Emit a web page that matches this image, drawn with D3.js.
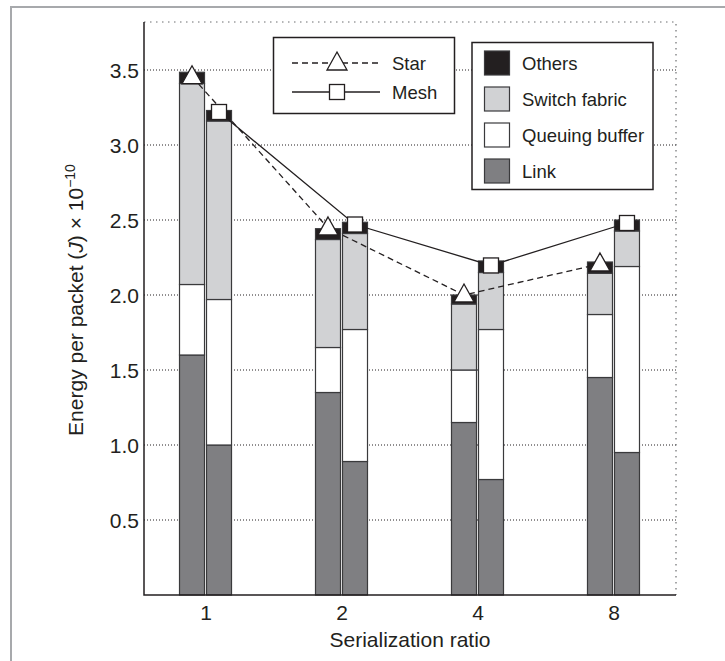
<!DOCTYPE html>
<html>
<head>
<meta charset="utf-8">
<script src="https://cdn.jsdelivr.net/npm/d3@7"></script>
<style>
body { margin: 0; background: #fff; }
text { font-family: "Liberation Sans", Arial, sans-serif; fill: #231f20; }
</style>
</head>
<body>
<script>
var ratios = ["1", "2", "4", "8"];
var yTicks = [0.5, 1.0, 1.5, 2.0, 2.5, 3.0, 3.5];

// stacked components, bottom to top
var starLink   = [1.60, 1.35, 1.15, 1.45];
var starQueue  = [0.47, 0.30, 0.35, 0.42];
var starSwitch = [1.34, 0.72, 0.44, 0.275];
var starOthers = [0.075, 0.072, 0.06, 0.075];

var meshLink   = [1.00, 0.89, 0.77, 0.95];
var meshQueue  = [0.97, 0.88, 1.00, 1.24];
var meshSwitch = [1.19, 0.64, 0.38, 0.237];
var meshOthers = [0.07, 0.075, 0.077, 0.073];

// line markers
var starMarker = [3.455, 2.447, 2.00, 2.207];
var meshMarker = [3.22, 2.47, 2.197, 2.48];

var keys = ["link", "queue", "switch", "others"];
var keyLabels = ["Others", "Switch fabric", "Queuing buffer", "Link"];
var colors = {link: "#7f7f82", queue: "#ffffff", switch: "#d1d2d4", others: "#231f20"};

var rows = [];
ratios.forEach(function(r, i) {
	rows.push({ratio: r, topo: "Star", link: starLink[i], queue: starQueue[i], switch: starSwitch[i], others: starOthers[i]});
	rows.push({ratio: r, topo: "Mesh", link: meshLink[i], queue: meshQueue[i], switch: meshSwitch[i], others: meshOthers[i]});
});

var W = 725, H = 661;
var plotL = 144, plotR = 676, plotT = 22, plotB = 595;
var barW = 25;

var svg = d3.select("body").append("svg")
	.attr("width", W)
	.attr("height", H);

// outer frame (left + top only)
svg.append("path")
	.attr("d", "M11," + H + "V7H" + W)
	.attr("fill", "none")
	.attr("stroke", "#a7a9ac")
	.attr("stroke-width", 2);

var x = d3.scalePoint().domain(ratios).range([plotL, plotR]).padding(0.456);
var y = d3.scaleLinear().domain([0, 3.82]).range([plotB, plotT]);

var barX = function(d) {
	return d.topo == "Star" ? x(d.ratio) - barW - 1.5 : x(d.ratio) + 0.5;
}

// grid
svg.append("g").selectAll("line").data(yTicks).enter()
	.append("line")
	.attr("x1", plotL).attr("x2", plotR)
	.attr("y1", d => y(d)).attr("y2", d => y(d))
	.attr("stroke", "#231f20")
	.attr("stroke-width", 1)
	.attr("stroke-dasharray", "1,2");

// top and right dotted border
svg.append("path")
	.attr("d", "M" + plotL + "," + plotT + "H" + plotR + "V" + plotB)
	.attr("fill", "none")
	.attr("stroke", "#6d6e71")
	.attr("stroke-width", 1.2)
	.attr("stroke-dasharray", "1.5,4.5");

// bars
var series = d3.stack().keys(keys)(rows);
svg.append("g").selectAll("g").data(series).enter()
	.append("g")
	.attr("fill", d => colors[d.key])
	.selectAll("rect").data(d => d).enter()
	.append("rect")
	.attr("x", d => barX(d.data))
	.attr("width", barW)
	.attr("y", d => y(d[1]))
	.attr("height", d => y(d[0]) - y(d[1]))
	.attr("stroke", "#3a3a3c")
	.attr("stroke-width", 1.2);

// axes lines
svg.append("path")
	.attr("d", "M" + plotL + "," + plotT + "V" + plotB + "H" + plotR)
	.attr("fill", "none")
	.attr("stroke", "#231f20")
	.attr("stroke-width", 1.5);

// tick labels
svg.append("g").selectAll("text").data(yTicks).enter()
	.append("text")
	.attr("x", plotL - 5)
	.attr("y", d => y(d) + 7.5)
	.attr("text-anchor", "end")
	.attr("font-size", 21)
	.text(d => d.toFixed(1));

svg.append("g").selectAll("text").data(ratios).enter()
	.append("text")
	.attr("x", d => x(d))
	.attr("y", 620)
	.attr("text-anchor", "middle")
	.attr("font-size", 21)
	.text(d => d);

svg.append("text")
	.attr("x", (plotL + plotR) / 2)
	.attr("y", 647)
	.attr("text-anchor", "middle")
	.attr("font-size", 21)
	.text("Serialization ratio");

var yl = svg.append("text")
	.attr("transform", "translate(83,300) rotate(-90)")
	.attr("text-anchor", "middle")
	.attr("font-size", 21);
yl.append("tspan").text("Energy per packet (");
yl.append("tspan").attr("font-style", "italic").text("J");
yl.append("tspan").text(") \u00d7 10");
yl.append("tspan").attr("font-size", 14).attr("dy", -8).text("\u221210");

// lines
var lineGen = d3.line().x(d => d[0]).y(d => y(d[1]));
var starPts = ratios.map((r, i) => [x(r) - barW / 2 - 1.5, starMarker[i]]);
var meshPts = ratios.map((r, i) => [x(r) + barW / 2 + 0.5, meshMarker[i]]);

svg.append("path")
	.attr("d", lineGen(starPts))
	.attr("fill", "none")
	.attr("stroke", "#231f20")
	.attr("stroke-width", 1.3)
	.attr("stroke-dasharray", "6,4");

svg.append("path")
	.attr("d", lineGen(meshPts))
	.attr("fill", "none")
	.attr("stroke", "#231f20")
	.attr("stroke-width", 1.3);

function triangle(g, cx, cy) {
	g.append("path")
		.attr("d", "M" + cx + "," + (cy - 11) + "L" + (cx + 10) + "," + (cy + 7) + "L" + (cx - 10) + "," + (cy + 7) + "Z")
		.attr("fill", "#fff")
		.attr("stroke", "#231f20")
		.attr("stroke-width", 1.3);
}
function square(g, cx, cy) {
	g.append("rect")
		.attr("x", cx - 7.5).attr("y", cy - 7.5)
		.attr("width", 15).attr("height", 15)
		.attr("fill", "#fff")
		.attr("stroke", "#231f20")
		.attr("stroke-width", 1.3);
}
var mk = svg.append("g");
starPts.forEach(p => triangle(mk, p[0], y(p[1])));
meshPts.forEach(p => square(mk, p[0], y(p[1])));

// legend: lines
var lg1 = svg.append("g");
lg1.append("rect")
	.attr("x", 273.5).attr("y", 37.5).attr("width", 181).attr("height", 76)
	.attr("fill", "#fff").attr("stroke", "#231f20").attr("stroke-width", 1.5);
lg1.append("line").attr("x1", 292).attr("x2", 380).attr("y1", 63).attr("y2", 63)
	.attr("stroke", "#231f20").attr("stroke-width", 1.3).attr("stroke-dasharray", "6,4");
triangle(lg1, 337, 63);
lg1.append("line").attr("x1", 292).attr("x2", 380).attr("y1", 92).attr("y2", 92)
	.attr("stroke", "#231f20").attr("stroke-width", 1.3);
square(lg1, 337, 92);
lg1.append("text").attr("x", 392).attr("y", 69.5).attr("font-size", 18.5).text("Star");
lg1.append("text").attr("x", 392).attr("y", 98.5).attr("font-size", 18.5).text("Mesh");

// legend: components
var lg2 = svg.append("g");
lg2.append("rect")
	.attr("x", 472).attr("y", 42.5).attr("width", 181).attr("height", 147)
	.attr("fill", "#fff").attr("stroke", "#231f20").attr("stroke-width", 1.5);
var legKeys = ["others", "switch", "queue", "link"];
legKeys.forEach(function(k, i) {
	lg2.append("rect")
		.attr("x", 484.5).attr("y", 51 + i * 36).attr("width", 25).attr("height", 24)
		.attr("fill", colors[k]).attr("stroke", "#3a3a3c").attr("stroke-width", 1.2);
	lg2.append("text")
		.attr("x", 522).attr("y", 69.5 + i * 36)
		.attr("font-size", 18.5)
		.text(keyLabels[i]);
});
</script>
</body>
</html>
